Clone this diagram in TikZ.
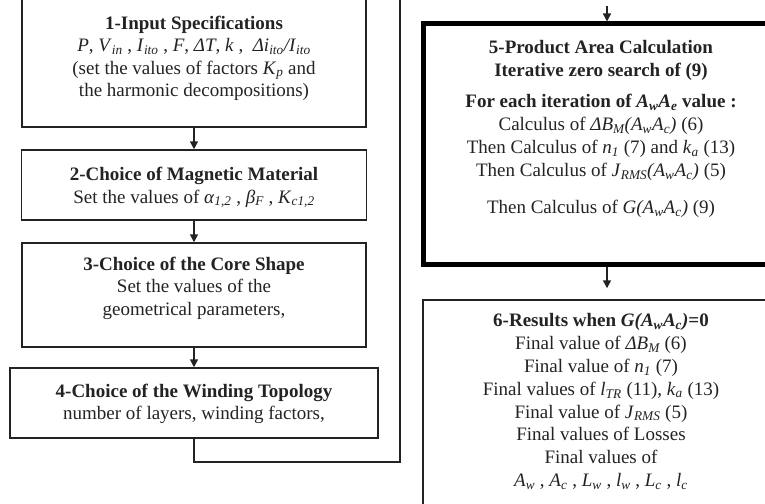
\documentclass[tikz,border=0pt]{standalone}
\usepackage{fontspec}
\setmainfont{Liberation Serif}
\usetikzlibrary{arrows.meta}
\definecolor{ink}{RGB}{35,35,35}
\newcommand{\sbs}[1]{\textsubscript{\itshape #1}}
\newcommand{\iv}[1]{\textit{#1}}
\begin{document}
\begin{tikzpicture}[x=1pt,y=-1pt,
  box/.style={draw=ink, line width=1.5pt, rectangle, inner sep=0pt},
  thickbox/.style={draw=black, line width=5pt, rectangle, inner sep=0pt},
  txt/.style={align=center, text=ink, inner sep=0pt, anchor=north,
    font=\fontsize{19}{22.5}\selectfont},
  link/.style={draw=ink, line width=1.5pt},
  arr/.style={link, -{Triangle[length=8pt,width=8pt]}}]
\useasboundingbox (0,0) rectangle (765,503);
\fill[white] (0,0) rectangle (765,503);
% boxes
\node[box, minimum width=344pt, minimum height=144pt] (b1) at (194,55) {};
\node[box, minimum width=345pt, minimum height=70pt] (b2) at (194,185) {};
\node[box, minimum width=344pt, minimum height=104pt] (b3) at (194,295) {};
\node[box, minimum width=368pt, minimum height=70pt] (b4) at (194,403) {};
\node[thickbox, minimum width=368pt, minimum height=240pt] (b5) at (607,144) {};
\node[box, minimum width=368pt, minimum height=220pt] (b6) at (607,410) {};
% texts
\node[txt] (t1) at (194,15.5) {\textbf{1-Input Specifications}\\
  \iv{P}, \iv{V}\sbs{in} , \iv{I}\sbs{ito} , \iv{F}, \iv{ΔT}, \iv{k} ,\ \ \iv{Δi}\sbs{ito}\iv{/I}\sbs{ito}\\
  (set the values of factors \iv{K}\sbs{p} and\\
  the harmonic decompositions)};
\node[txt] (t2) at (194,167) {\textbf{2-Choice of Magnetic Material}\\
  Set the values of \iv{α}\sbs{1,2} , \iv{β}\sbs{F} , \iv{K}\sbs{c1,2}};
\node[txt] (t3) at (194,256.5) {\textbf{3-Choice of the Core Shape}\\
  Set the values of the\\ geometrical parameters,};
\node[txt] (t4) at (194,383.5) {\textbf{4-Choice of the Winding Topology}\\
  number of layers, winding factors,};
\node[txt, font=\fontsize{19}{23}\selectfont] (t5) at (601,40.5) {\textbf{5-Product Area Calculation}\\
  \textbf{Iterative zero search of (9)}\\[8pt]
  \textbf{For each iteration of \iv{A}\sbs{w}\iv{A}\sbs{e} value :}\\
  Calculus of \iv{ΔB}\sbs{M}\iv{(A}\sbs{w}\iv{A}\sbs{c}\iv{)} (6)\\
  Then Calculus of \iv{n}\sbs{1} (7) and \iv{k}\sbs{a} (13)\\
  Then Calculus of \iv{J}\sbs{RMS}\iv{(A}\sbs{w}\iv{A}\sbs{c}\iv{)} (5)\\[14pt]
  Then Calculus of \iv{G(A}\sbs{w}\iv{A}\sbs{c}\iv{)} (9)};
\node[txt, font=\fontsize{19}{22.8}\selectfont] (t6) at (601,313.5) {\textbf{6-Results when \iv{G(A}\sbs{w}\iv{A}\sbs{c}\iv{)}=0}\\
  Final value of \iv{ΔB}\sbs{M} (6)\\
  Final value of \iv{n}\sbs{1} (7)\\
  Final values of \iv{l}\sbs{TR} (11), \iv{k}\sbs{a} (13)\\
  Final value of \iv{J}\sbs{RMS} (5)\\
  Final values of Losses\\
  Final values of\\
  \iv{A}\sbs{w} , \iv{A}\sbs{c} , \iv{L}\sbs{w} , \iv{l}\sbs{w} , \iv{L}\sbs{c} , \iv{l}\sbs{c}};
% connectors
\coordinate (lp) at (400,462);
\coordinate (ltop) at (400,-5);
\coordinate (in5) at (607,6);
\draw[arr] (b1.south) -- (b2.north);
\draw[arr] (b2.south) -- (b3.north);
\draw[arr] (b3.south) -- (b4.north);
\draw[link] (b4.south) |- (lp) -- (ltop);
\draw[arr] (in5) -- (b5.north);
\draw[arr, shorten >=11pt] (b5.south) -- (b6.north);
\end{tikzpicture}
\end{document}
